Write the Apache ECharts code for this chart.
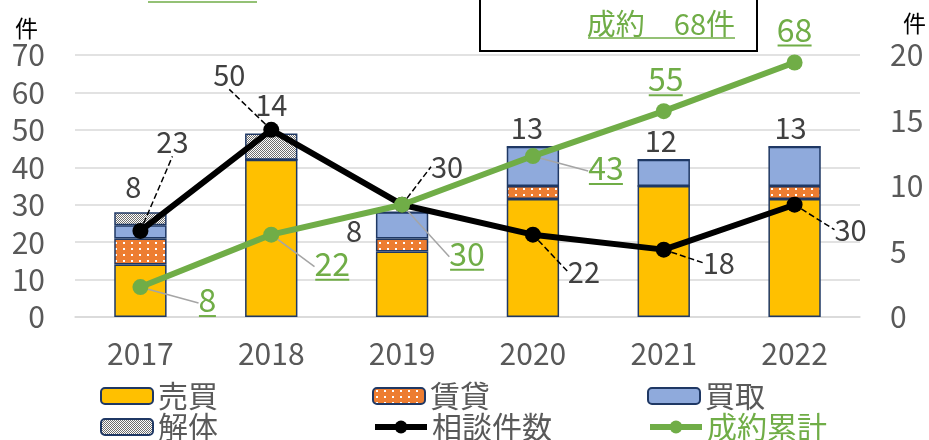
<!DOCTYPE html>
<html>
<head>
<meta charset="utf-8">
<script src="https://cdn.jsdelivr.net/npm/echarts@6/dist/echarts.min.js"></script>
<style>
  html, body { margin: 0; padding: 0; background: #fff; }
  #chart { width: 929px; height: 440px; }
</style>
</head>
<body>
<div id="chart"></div>
<script>
// 年ごとのデータ
const years = ['2017', '2018', '2019', '2020', '2021', '2022'];
const sales = [4, 12, 5, 9, 10, 9];        // 売買
const rental = [2, 0, 1, 1, 0, 1];         // 賃貸
const purchase = [1, 0, 2, 3, 2, 3];       // 買取
const demolition = [1, 2, 0, 0, 0, 0];     // 解体
const consults = [23, 50, 30, 22, 18, 30]; // 相談件数
const cumulative = [8, 22, 30, 43, 55, 68]; // 成約累計

const FONT = "'Noto Sans CJK JP', 'Noto Sans', sans-serif";
const GREEN = '#70AD47';
const GRAY_TXT = '#595959';
const BORDER = '#1F3864';

// ラベル位置の調整 (px)
const consultShift = [[32, -89], [-42, -55], [45, -38], [51, 37], [55, 13], [56, 25]];
const cumShift = [[67, 14], [61, 30], [65, 50], [73, 13], [2, -31], [0, -32]];
const totalShift = [[-7, -4], [0, -8], [-48, 40], [-6, 2], [-3, 2], [-4, 2]];

// パターン
function dotPattern() {
  const c = document.createElement('canvas');
  c.width = 8; c.height = 6;
  const g = c.getContext('2d');
  g.fillStyle = '#ED7D31';
  g.fillRect(0, 0, 8, 6);
  g.fillStyle = '#fff';
  g.fillRect(3, 2, 2, 2);
  return { image: c, repeat: 'repeat' };
}
function checkPattern() {
  const c = document.createElement('canvas');
  c.width = 2; c.height = 2;
  const g = c.getContext('2d');
  g.fillStyle = '#fff';
  g.fillRect(0, 0, 2, 2);
  g.fillStyle = '#6e6e6e';
  g.fillRect(0, 0, 1, 1);
  g.fillRect(1, 1, 1, 1);
  return { image: c, repeat: 'repeat' };
}

const totals = years.map((y, i) => sales[i] + rental[i] + purchase[i] + demolition[i]);

function barSeries(name, data, color) {
  return {
    name: name,
    type: 'bar',
    stack: 'deal',
    yAxisIndex: 1,
    barWidth: '40%',
    data: data,
    itemStyle: { color: color, borderColor: BORDER, borderWidth: 1.5 }
  };
}

function legendItem(name, left, top, color, isLine) {
  const item = { name: name, textStyle: { color: color || GRAY_TXT } };
  if (isLine) {
    item.lineStyle = { width: 6 };
  }
  return {
    data: [item],
    left: left,
    top: top,
    padding: 0,
    itemWidth: 52,
    itemHeight: 16,
    textStyle: { fontSize: 30, fontFamily: FONT, color: GRAY_TXT }
  };
}

const chart = echarts.init(document.getElementById('chart'), null, { renderer: 'canvas' });

const option = {
  animation: false,
  textStyle: { fontFamily: FONT },
  grid: { left: 75, right: 69, top: 55, bottom: 123 },
  legend: [
    legendItem('売買', 100, 381),
    legendItem('賃貸', 372, 381),
    legendItem('買取', 647, 381),
    legendItem('解体', 100, 412),
    legendItem('相談件数', 372, 412, null, true),
    legendItem('成約累計', 647, 412, GREEN, true)
  ],
  xAxis: {
    type: 'category',
    data: years,
    axisLine: { lineStyle: { color: '#D9D9D9', width: 1.5 } },
    axisTick: { show: false },
    axisLabel: { fontSize: 30, color: GRAY_TXT, margin: 22, fontFamily: FONT }
  },
  yAxis: [
    {
      type: 'value',
      min: 0, max: 70, interval: 10,
      name: '件',
      nameLocation: 'end',
      nameGap: 14,
      nameTextStyle: { fontSize: 23, color: '#000', align: 'right', padding: [0, 37, 0, 0], fontFamily: FONT },
      axisLabel: { fontSize: 30, color: GRAY_TXT, margin: 30, fontFamily: FONT },
      splitLine: { lineStyle: { color: '#D9D9D9', width: 1.5 } },
      axisLine: { show: false },
      axisTick: { show: false }
    },
    {
      type: 'value',
      min: 0, max: 20, interval: 5,
      name: '件',
      nameLocation: 'end',
      nameGap: 20,
      nameTextStyle: { fontSize: 23, color: '#000', align: 'left', padding: [0, 0, 0, 43], fontFamily: FONT },
      axisLabel: { fontSize: 30, color: GRAY_TXT, margin: 30, fontFamily: FONT },
      splitLine: { show: false },
      axisLine: { show: false },
      axisTick: { show: false }
    }
  ],
  series: [
    barSeries('売買', sales, '#FFC000'),
    barSeries('賃貸', rental, dotPattern()),
    barSeries('買取', purchase, '#8FAADC'),
    barSeries('解体', demolition, checkPattern()),
    {
      name: '成約件数',
      type: 'scatter',
      yAxisIndex: 1,
      data: totals,
      symbolSize: 1,
      silent: true,
      itemStyle: { color: 'rgba(0,0,0,0)', opacity: 1 },
      label: {
        show: true, position: 'top', distance: 6,
        fontSize: 29, color: '#404040', fontFamily: FONT
      },
      labelLayout: p => ({ dx: totalShift[p.dataIndex][0], dy: totalShift[p.dataIndex][1] })
    },
    {
      name: '相談件数',
      type: 'line',
      yAxisIndex: 0,
      data: consults,
      symbol: 'circle',
      symbolSize: 16,
      itemStyle: { color: '#000' },
      lineStyle: { color: '#000', width: 6 },
      z: 5,
      label: {
        show: true, position: 'inside',
        fontSize: 29, color: '#404040', fontFamily: FONT
      },
      labelLine: { show: true, lineStyle: { color: '#000', width: 1.5, type: 'dashed' } },
      labelLayout: p => ({ dx: consultShift[p.dataIndex][0], dy: consultShift[p.dataIndex][1] })
    },
    {
      name: '成約累計',
      type: 'line',
      yAxisIndex: 0,
      data: cumulative.map((v, i) => (i >= 4 ? { value: v, labelLine: { show: false } } : v)),
      symbol: 'circle',
      symbolSize: 16,
      itemStyle: { color: GREEN },
      lineStyle: { color: GREEN, width: 6 },
      z: 6,
      label: {
        show: true, position: 'inside',
        formatter: p => '{v|' + p.value + '}\n{u' + String(p.value).length + '|}',
        rich: {
          v: { fontSize: 32, color: GREEN, lineHeight: 30, fontFamily: FONT },
          u1: { width: 17, height: 2, backgroundColor: GREEN },
          u2: { width: 34, height: 2, backgroundColor: GREEN }
        }
      },
      labelLine: { show: true, lineStyle: { color: '#A5A5A5', width: 1.5 } },
      labelLayout: p => ({ dx: cumShift[p.dataIndex][0], dy: cumShift[p.dataIndex][1] })
    }
  ],
  graphic: [
    {
      type: 'rect',
      shape: { x: 480, y: -10, width: 277, height: 61 },
      style: { fill: '#fff', stroke: '#000', lineWidth: 2 },
      z: 10
    },
    {
      type: 'text',
      x: 735, y: 24,
      style: {
        text: '成約　68件', fill: GREEN, fontSize: 29, fontFamily: FONT,
        align: 'right', verticalAlign: 'middle'
      },
      z: 11
    },
    {
      type: 'line',
      shape: { x1: 588, y1: 38, x2: 735, y2: 38 },
      style: { stroke: GREEN, lineWidth: 1.5 },
      z: 11
    },
    {
      type: 'line',
      shape: { x1: 148, y1: 2, x2: 257, y2: 2 },
      style: { stroke: GREEN, lineWidth: 1.5 },
      z: 11
    }
  ]
};

chart.setOption(option);
</script>
</body>
</html>
